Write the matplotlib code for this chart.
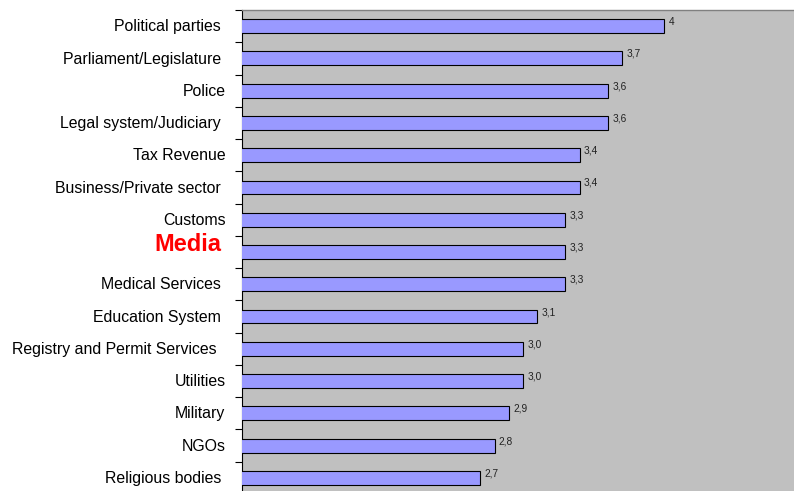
import matplotlib
matplotlib.use("Agg")
import matplotlib.pyplot as plt
from matplotlib.transforms import blended_transform_factory

categories = ["Political parties ", "Parliament/Legislature ", "Police", "Legal system/Judiciary ",
              "Tax Revenue", "Business/Private sector ", "Customs", "Media", "Medical Services ",
              "Education System ", "Registry and Permit Services  ", "Utilities", "Military",
              "NGOs", "Religious bodies "]
values = [4.0, 3.7, 3.6, 3.6, 3.4, 3.4, 3.3, 3.3, 3.3, 3.1, 3.0, 3.0, 2.9, 2.8, 2.7]
value_labels = ["4", "3,7", "3,6", "3,6", "3,4", "3,4", "3,3", "3,3", "3,3", "3,1",
                "3,0", "3,0", "2,9", "2,8", "2,7"]

plt.rcParams['font.family'] = ['Liberation Sans', 'DejaVu Sans']

fig = plt.figure(figsize=(7.94, 4.91), dpi=100)
W, H = 794, 491
ax = fig.add_axes([242 / W, (H - 494) / H, (W - 242) / W, 484 / H])
ax.set_facecolor("#C0C0C0")

n = len(categories)
ypos = list(range(n))
ax.barh(ypos, values, left=0, height=0.43, color="#9999FF", edgecolor="black", linewidth=0.8, zorder=3)
ax.set_xlim(1.015, 4.915)
ax.set_ylim(n - 0.5, -0.5)

for y, v, lab in zip(ypos, values, value_labels):
    ax.text(v + 0.03, y - 0.14, lab, fontsize=7.3, va="center", ha="left", color="#222222", zorder=4)

ax.set_xticks([])
ax.set_yticks([i - 0.5 for i in range(n)])
ax.set_yticklabels([])
ax.tick_params(axis="y", direction="out", length=5, width=0.8, color="black")

trans = blended_transform_factory(ax.transAxes, ax.transData)
for y, c in zip(ypos, categories):
    if c.strip() == "Media":
        ax.text(-0.038, y - 0.22, c, transform=trans, ha="right", va="center",
                fontsize=17, fontweight="bold", color="red")
    else:
        ax.text(-0.03, y + 0.02, c, transform=trans, ha="right", va="center", fontsize=11.45, color="black")

for s in ["right", "bottom"]:
    ax.spines[s].set_visible(False)
ax.spines["top"].set_color("#808080")
ax.spines["top"].set_linewidth(1.0)
ax.spines["left"].set_color("black")
ax.spines["left"].set_linewidth(0.8)

fig.savefig("out.png", dpi=100)
